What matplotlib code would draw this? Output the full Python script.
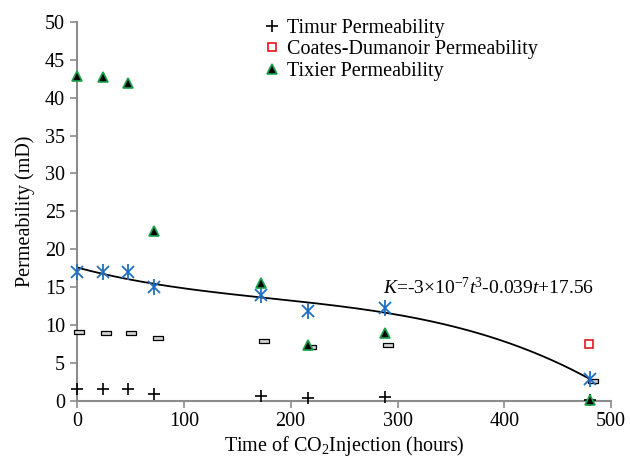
import numpy as np
import matplotlib
matplotlib.use('Agg')
import matplotlib.pyplot as plt

plt.rcParams['font.family'] = 'Liberation Serif'
plt.rcParams['mathtext.fontset'] = 'custom'
plt.rcParams['mathtext.rm'] = 'Liberation Serif'
plt.rcParams['mathtext.it'] = 'Liberation Serif:italic'

# Time of CO2 injection (hours)
time_h = [0, 24, 48, 72, 172, 216, 288, 480]
# offset positions of the grey rectangle series
time_rect = [2, 27, 51, 76, 175, 219, 291, 483]

timur = [1.5, 1.5, 1.5, 0.9, 0.65, 0.4, 0.45, 0.05]
tixier = [42.8, 42.7, 41.9, 22.4, 15.6, 7.3, 8.9, 0.1]
measured = [17.0, 17.0, 17.0, 15.0, 13.9, 11.9, 12.3, 2.8]
grey_series = [9.05, 9.0, 9.0, 8.3, 7.9, 7.05, 7.3, 2.6]
coates_t = [479]
coates = [7.5]

eq_text = r'$K$=-3$\times$10$^{-7}$$t$$^{3}$-0.039$t$+17.56'

fig = plt.figure(figsize=(6.3, 4.63), dpi=100)
ax = fig.add_axes([0.1222, 0.1346, 0.848, 0.818])

# trend line (cubic) through the measured points
coef = np.polyfit(time_h, measured, 3)
tt = np.linspace(0, 480, 200)
ax.plot(tt, np.polyval(coef, tt), color='black', lw=1.3, zorder=2)

rect = [(-1, -0.45), (1, -0.45), (1, 0.45), (-1, 0.45), (-1, -0.45)]
ax.plot(time_rect, grey_series, ls='none', marker=rect, ms=7.5, mfc='#d4d4d4',
        mec='black', mew=0.9, zorder=3, clip_on=False)
ax.plot(time_h, measured, ls='none', marker='x', ms=9, mec='#1f6fc0', mew=1.3,
        zorder=4, clip_on=False)
ax.plot(time_h, measured, ls='none', marker='|', ms=11, mec='#1f6fc0', mew=1.3,
        zorder=4, clip_on=False)
ax.plot(time_h, timur, ls='none', marker='+', ms=9, mec='black', mew=1.2,
        zorder=5, clip_on=False, label='Timur Permeability')
ax.plot(coates_t, coates, ls='none', marker='s', ms=6, mfc='white', mec='#e8141c',
        mew=1.2, zorder=5, clip_on=False, label='Coates-Dumanoir Permeability')
ax.plot(time_h, tixier, ls='none', marker='^', ms=7.5, mfc='black', mec='#1aa34a',
        mew=1.2, zorder=5, clip_on=False, label='Tixier Permeability')

ax.text(286, 14.9, eq_text, fontsize=14, va='center', ha='left')

ax.set_xlim(0, 500)
ax.set_ylim(0, 50)
ax.set_xticks(np.arange(0, 501, 100))
ax.set_yticks(np.arange(0, 51, 5))
for s in ['top', 'right']:
    ax.spines[s].set_visible(False)
for s in ['left', 'bottom']:
    ax.spines[s].set_color('#8c8c8c')
    ax.spines[s].set_linewidth(1.5)
ax.tick_params(colors='#8c8c8c', labelcolor='black', labelsize=14.5, length=5, width=1.2)
ax.set_xlabel('Time of CO$_2$Injection (hours)', fontsize=14.5, labelpad=2)
ax.set_ylabel('Permeability (mD)', fontsize=14.5, labelpad=7)

ax.legend(loc='upper left', bbox_to_anchor=(0.331, 1.03), frameon=False, fontsize=14.5,
          handletextpad=0.25, handlelength=1.0, labelspacing=0.12, borderaxespad=0)

fig.savefig('out.png', dpi=100)
